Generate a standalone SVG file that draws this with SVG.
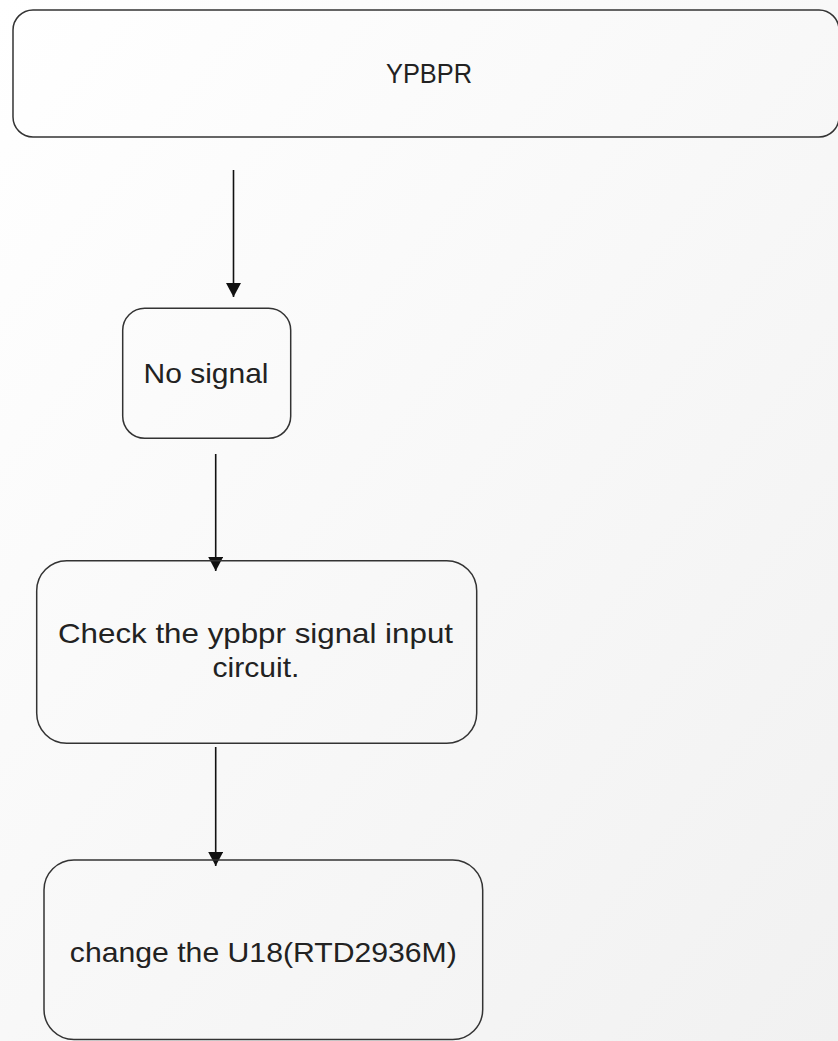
<svg xmlns="http://www.w3.org/2000/svg" width="838" height="1041" viewBox="0 0 838 1041">
  <defs>
    <linearGradient id="bg" x1="0" y1="0" x2="1" y2="1">
      <stop offset="0" stop-color="#ffffff"/>
      <stop offset="1" stop-color="#f1f1f1"/>
    </linearGradient>
    <marker id="arrow" viewBox="0 0 14 15" refX="14" refY="7.5" markerWidth="14" markerHeight="15" markerUnits="userSpaceOnUse" orient="auto">
      <path d="M0,0 L14,7.5 L0,15 Z" fill="#111"/>
    </marker>
  </defs>
  <style>
    .box { fill: none; stroke: #333; stroke-width: 1.5; }
    .label { font-family: "Liberation Sans", Arial, sans-serif; font-size: 28px; fill: #222; text-anchor: middle; }
    .edge { stroke: #111; stroke-width: 1.6; fill: none; marker-end: url(#arrow); }
  </style>

  <rect width="838" height="1041" fill="url(#bg)"/>

  <g id="connectors">
    <line class="edge" x1="233.5" y1="170" x2="233.5" y2="297"/>
    <line class="edge" x1="215.7" y1="454" x2="215.7" y2="571"/>
    <line class="edge" x1="215.7" y1="747" x2="215.7" y2="866"/>
  </g>

  <g id="node-ypbpr">
    <rect class="box" x="13" y="10" width="826" height="127" rx="20" ry="20"/>
    <text class="label" x="429" y="83" textLength="86" lengthAdjust="spacingAndGlyphs">YPBPR</text>
  </g>

  <g id="node-no-signal">
    <rect class="box" x="122.7" y="308.3" width="168" height="130" rx="22" ry="22"/>
    <text class="label" x="206" y="383" textLength="125" lengthAdjust="spacingAndGlyphs">No signal</text>
  </g>

  <g id="node-check-input">
    <rect class="box" x="36.7" y="560.7" width="440" height="182.6" rx="30" ry="30"/>
    <text class="label" x="255.5" y="643" textLength="395" lengthAdjust="spacingAndGlyphs">Check the ypbpr signal input</text>
    <text class="label" x="256" y="677" textLength="87" lengthAdjust="spacingAndGlyphs">circuit.</text>
  </g>

  <g id="node-change-u18">
    <rect class="box" x="44" y="860" width="438.7" height="179.5" rx="30" ry="30"/>
    <text class="label" x="263.3" y="962" textLength="387" lengthAdjust="spacingAndGlyphs">change the U18(RTD2936M)</text>
  </g>
</svg>
